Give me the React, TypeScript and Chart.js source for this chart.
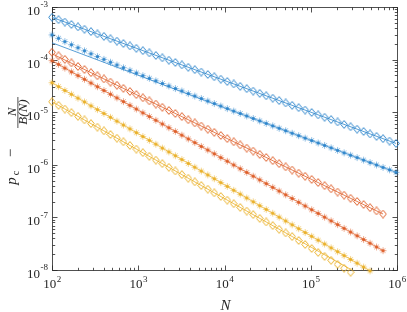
import React, { useEffect, useRef } from "react";
import { Chart, registerables } from "chart.js";

Chart.register(...registerables);

// System sizes N (x axis, log scale)
const N = [100, 119, 141, 168, 200, 238, 283, 336, 400, 476, 566, 673, 800, 951, 1131, 1345, 1600, 1903, 2263, 2691, 3200, 3805, 4525, 5382, 6400, 7611, 9051, 10763, 12800, 15222, 18102, 21527, 25600, 30444, 36204, 43054, 51200, 60887, 72408, 86108, 102400, 121775, 144815, 172215, 204800, 243549, 289631, 344430, 409600, 487098, 579262, 688861, 819200, 974196];

// p_c - N/B(N) for each series
const blueDiamonds = [6.37e-4, 5.74e-4, 5.18e-4, 4.66e-4, 4.20e-4, 3.78e-4, 3.41e-4, 3.07e-4, 2.77e-4, 2.49e-4, 2.25e-4, 2.02e-4, 1.82e-4, 1.64e-4, 1.48e-4, 1.34e-4, 1.20e-4, 1.08e-4, 9.77e-5, 8.81e-5, 7.93e-5, 7.14e-5, 6.44e-5, 5.81e-5, 5.22e-5, 4.71e-5, 4.25e-5, 3.83e-5, 3.44e-5, 3.10e-5, 2.80e-5, 2.52e-5, 2.28e-5, 2.05e-5, 1.85e-5, 1.66e-5, 1.50e-5, 1.35e-5, 1.22e-5, 1.10e-5, 9.89e-6, 8.89e-6, 8.02e-6, 7.23e-6, 6.52e-6, 5.86e-6, 5.28e-6, 4.76e-6, 4.30e-6, 3.86e-6, 3.48e-6, 3.14e-6, 2.83e-6, 2.55e-6];
const blueStars = [2.95e-4, 2.54e-4, 2.20e-4, 1.92e-4, 1.68e-4, 1.47e-4, 1.29e-4, 1.14e-4, 1.01e-4, 8.91e-5, 7.90e-5, 7.01e-5, 6.24e-5, 5.56e-5, 4.95e-5, 4.41e-5, 3.95e-5, 3.52e-5, 3.15e-5, 2.82e-5, 2.53e-5, 2.26e-5, 2.03e-5, 1.82e-5, 1.63e-5, 1.46e-5, 1.31e-5, 1.17e-5, 1.05e-5, 9.45e-6, 8.49e-6, 7.61e-6, 6.84e-6, 6.12e-6, 5.50e-6, 4.94e-6, 4.44e-6, 3.99e-6, 3.58e-6, 3.22e-6, 2.89e-6, 2.60e-6, 2.34e-6, 2.10e-6, 1.88e-6, 1.69e-6, 1.52e-6, 1.37e-6, 1.23e-6, 1.10e-6, 9.92e-7, 8.91e-7, 8.01e-7, 7.20e-7];
const redDiamonds = [1.38e-4, 1.18e-4, 1.01e-4, 8.65e-5, 7.43e-5, 6.48e-5, 5.65e-5, 4.92e-5, 4.29e-5, 3.74e-5, 3.26e-5, 2.84e-5, 2.48e-5, 2.16e-5, 1.88e-5, 1.64e-5, 1.43e-5, 1.24e-5, 1.08e-5, 9.46e-6, 8.24e-6, 7.18e-6, 6.26e-6, 5.46e-6, 4.76e-6, 4.14e-6, 3.61e-6, 3.15e-6, 2.74e-6, 2.39e-6, 2.08e-6, 1.82e-6, 1.58e-6, 1.38e-6, 1.20e-6, 1.05e-6, 9.14e-7, 7.96e-7, 6.94e-7, 6.05e-7, 5.27e-7, 4.60e-7, 4.01e-7, 3.49e-7, 3.04e-7, 2.65e-7, 2.31e-7, 2.01e-7, 1.76e-7, 1.53e-7, 1.33e-7, 1.16e-7];
const redStars = [9.55e-5, 8.12e-5, 6.89e-5, 5.85e-5, 4.97e-5, 4.22e-5, 3.59e-5, 3.05e-5, 2.59e-5, 2.20e-5, 1.87e-5, 1.59e-5, 1.35e-5, 1.15e-5, 9.73e-6, 8.27e-6, 7.02e-6, 5.97e-6, 5.07e-6, 4.31e-6, 3.66e-6, 3.11e-6, 2.64e-6, 2.24e-6, 1.91e-6, 1.62e-6, 1.37e-6, 1.17e-6, 9.92e-7, 8.43e-7, 7.16e-7, 6.08e-7, 5.17e-7, 4.39e-7, 3.73e-7, 3.17e-7, 2.69e-7, 2.29e-7, 1.94e-7, 1.65e-7, 1.40e-7, 1.19e-7, 1.01e-7, 8.59e-8, 7.29e-8, 6.20e-8, 5.27e-8, 4.47e-8, 3.80e-8, 3.23e-8, 2.74e-8, 2.33e-8];
const yellowStars = [3.63e-5, 3.07e-5, 2.59e-5, 2.19e-5, 1.85e-5, 1.57e-5, 1.32e-5, 1.12e-5, 9.46e-6, 8.00e-6, 6.76e-6, 5.71e-6, 4.83e-6, 4.08e-6, 3.45e-6, 2.92e-6, 2.47e-6, 2.08e-6, 1.76e-6, 1.49e-6, 1.26e-6, 1.06e-6, 8.99e-7, 7.60e-7, 6.43e-7, 5.43e-7, 4.59e-7, 3.88e-7, 3.28e-7, 2.77e-7, 2.34e-7, 1.98e-7, 1.67e-7, 1.42e-7, 1.20e-7, 1.01e-7, 8.55e-8, 7.23e-8, 6.11e-8, 5.16e-8, 4.37e-8, 3.69e-8, 3.12e-8, 2.64e-8, 2.23e-8, 1.88e-8, 1.59e-8, 1.35e-8, 1.14e-8, 9.62e-9];
const yellowDiamonds = [1.58e-5, 1.35e-5, 1.15e-5, 9.82e-6, 8.37e-6, 7.14e-6, 6.08e-6, 5.19e-6, 4.42e-6, 3.77e-6, 3.21e-6, 2.74e-6, 2.34e-6, 1.99e-6, 1.70e-6, 1.45e-6, 1.23e-6, 1.05e-6, 8.97e-7, 7.64e-7, 6.52e-7, 5.56e-7, 4.74e-7, 4.04e-7, 3.44e-7, 2.93e-7, 2.50e-7, 2.13e-7, 1.82e-7, 1.55e-7, 1.32e-7, 1.13e-7, 9.60e-8, 8.19e-8, 6.98e-8, 5.95e-8, 5.07e-8, 4.32e-8, 3.64e-8, 3.06e-8, 2.57e-8, 2.16e-8, 1.82e-8, 1.53e-8, 1.28e-8, 1.08e-8, 9.08e-9];

// Power-law fit lines (endpoints)
const fitBlueDiamondsN = [100, 974196];
const fitBlueDiamonds = [6.37e-4, 2.55e-6];
const fitBlueStarsN = [100, 974196];
const fitBlueStars = [2.09e-4, 7.2e-7];
const fitRedDiamondsN = [100, 688861];
const fitRedDiamonds = [1.29e-4, 1.16e-7];
const fitRedStarsN = [100, 688861];
const fitRedStars = [9.55e-5, 2.33e-8];
const fitYellowStarsN = [100, 487098];
const fitYellowStars = [3.63e-5, 9.62e-9];
const fitYellowDiamondsN = [100, 289631];
const fitYellowDiamonds = [1.58e-5, 1.03e-8];

// Axis ticks
const xTickValues = [1e2, 1e3, 1e4, 1e5, 1e6];
const xTickExponents = ["2", "3", "4", "5", "6"];
const yTickValues = [1e-8, 1e-7, 1e-6, 1e-5, 1e-4, 1e-3];
const yTickExponents = ["-8", "-7", "-6", "-5", "-4", "-3"];

const BLUE = "#2F86CC";
const RED = "#DE5F2A";
const YELLOW = "#EAB12A";
const AXIS = "#262626";
const SERIF = '"Liberation Serif", "Times New Roman", Times, serif';

function pts(xs: number[], ys: number[]) {
  return ys.map((y, i) => ({ x: xs[i], y }));
}

function makeDiamond(color: string): HTMLCanvasElement {
  const c = document.createElement("canvas");
  c.width = 8;
  c.height = 9;
  const g = c.getContext("2d")!;
  g.strokeStyle = color;
  g.lineWidth = 1;
  g.beginPath();
  g.moveTo(4, 0.6);
  g.lineTo(7.3, 4.5);
  g.lineTo(4, 8.4);
  g.lineTo(0.7, 4.5);
  g.closePath();
  g.stroke();
  return c;
}

function makeStar(color: string): HTMLCanvasElement {
  const c = document.createElement("canvas");
  c.width = 9;
  c.height = 9;
  const g = c.getContext("2d")!;
  g.strokeStyle = color;
  g.fillStyle = color;
  g.globalAlpha = 0.55;
  g.lineWidth = 1;
  g.beginPath();
  const r = 3.4;
  const cx = 4.5;
  const cy = 4.5;
  for (let i = 0; i < 4; i++) {
    const ang = (i * Math.PI) / 4;
    g.moveTo(cx - r * Math.cos(ang), cy - r * Math.sin(ang));
    g.lineTo(cx + r * Math.cos(ang), cy + r * Math.sin(ang));
  }
  g.stroke();
  g.globalAlpha = 1;
  g.beginPath();
  g.arc(cx, cy, 1.6, 0, Math.PI * 2);
  g.fill();
  return c;
}

const axesPlugin = {
  id: "matlabAxes",
  beforeDatasetsDraw(chart: any) {
    const { ctx, chartArea: a, scales } = chart;
    const xs = scales.x;
    const ys = scales.y;
    ctx.save();
    ctx.strokeStyle = AXIS;
    ctx.lineWidth = 0.8;
    const L = Math.round(a.left) + 0.5;
    const R = Math.round(a.right) + 0.5;
    const T = Math.round(a.top) + 0.5;
    const B = Math.round(a.bottom) + 0.5;
    ctx.strokeRect(L, T, R - L, B - T);
    ctx.beginPath();
    for (let i = 0; i < xTickValues.length; i++) {
      for (let m = 1; m <= 9; m++) {
        const v = xTickValues[i] * m;
        if (v > xTickValues[xTickValues.length - 1] * 1.0001) break;
        const px = Math.round(xs.getPixelForValue(v)) + 0.5;
        const len = m === 1 ? 5 : 2.7;
        ctx.moveTo(px, B);
        ctx.lineTo(px, B - len);
        ctx.moveTo(px, T);
        ctx.lineTo(px, T + len);
      }
    }
    for (let i = 0; i < yTickValues.length; i++) {
      for (let m = 1; m <= 9; m++) {
        const v = yTickValues[i] * m;
        if (v > yTickValues[yTickValues.length - 1] * 1.0001) break;
        const py = Math.round(ys.getPixelForValue(v)) + 0.5;
        const len = m === 1 ? 5 : 2.7;
        ctx.moveTo(L, py);
        ctx.lineTo(L + len, py);
        ctx.moveTo(R, py);
        ctx.lineTo(R - len, py);
      }
    }
    ctx.stroke();
    ctx.restore();
  },
  afterDraw(chart: any) {
    const { ctx, chartArea: a, scales } = chart;
    const xs = scales.x;
    const ys = scales.y;
    ctx.save();
    ctx.fillStyle = AXIS;
    ctx.textBaseline = "middle";
    const baseFont = `13px ${SERIF}`;
    const supFont = `9px ${SERIF}`;
    // x tick labels
    for (let i = 0; i < xTickValues.length; i++) {
      const px = xs.getPixelForValue(xTickValues[i]);
      ctx.font = baseFont;
      const wb = ctx.measureText("10").width;
      ctx.font = supFont;
      const ws = ctx.measureText(xTickExponents[i]).width;
      const left = px - (wb + ws) / 2;
      ctx.font = baseFont;
      ctx.textAlign = "left";
      ctx.fillText("10", left, a.bottom + 15);
      ctx.font = supFont;
      ctx.fillText(xTickExponents[i], left + wb + 0.5, a.bottom + 9.5);
    }
    // y tick labels
    for (let i = 0; i < yTickValues.length; i++) {
      const py = ys.getPixelForValue(yTickValues[i]);
      ctx.font = supFont;
      const ws = ctx.measureText(yTickExponents[i]).width;
      const right = a.left - 4;
      ctx.textAlign = "left";
      ctx.fillText(yTickExponents[i], right - ws, py - 2);
      ctx.font = baseFont;
      ctx.textAlign = "right";
      ctx.fillText("10", right - ws - 0.5, py + 4.5);
    }
    // x axis title
    ctx.font = `italic 15px ${SERIF}`;
    ctx.textAlign = "center";
    ctx.fillText("N", (a.left + a.right) / 2 + 1, a.bottom + 36);
    // y axis title: p_c − N / B(N), rotated
    const rot = (text: string, x: number, y: number, font: string) => {
      ctx.save();
      ctx.translate(x, y);
      ctx.rotate(-Math.PI / 2);
      ctx.font = font;
      ctx.textAlign = "center";
      ctx.textBaseline = "middle";
      ctx.fillText(text, 0, 0);
      ctx.restore();
    };
    rot("p", 12, 181, `italic 15px ${SERIF}`);
    rot("c", 16, 173, `10px ${SERIF}`);
    rot("\u2212", 11, 153, `15px ${SERIF}`);
    rot("N", 12.5, 112, `italic 13px ${SERIF}`);
    ctx.fillRect(17.5, 97, 0.8, 31);
    rot("B(N)", 23.5, 112, `italic 13px ${SERIF}`);
    ctx.restore();
  },
};

export default function App() {
  const ref = useRef<HTMLCanvasElement | null>(null);
  useEffect(() => {
    document.body.style.margin = "0";
    const canvas = ref.current!;
    const dBlue = makeDiamond(BLUE);
    const dRed = makeDiamond(RED);
    const dYellow = makeDiamond(YELLOW);
    const sBlue = makeStar(BLUE);
    const sRed = makeStar(RED);
    const sYellow = makeStar(YELLOW);

    const markerSet = (data: any[], color: string, style: HTMLCanvasElement) => ({
      data,
      showLine: false,
      borderColor: color,
      backgroundColor: color,
      pointStyle: style,
      pointRadius: 4,
      clip: 8,
    });
    const lineSet = (data: any[], color: string) => ({
      data,
      showLine: true,
      borderColor: color,
      borderWidth: 0.8,
      pointRadius: 0,
      fill: false,
      tension: 0,
      clip: 4,
    });

    const chart = new Chart(canvas, {
      type: "line",
      data: {
        datasets: [
          markerSet(pts(N, blueDiamonds), BLUE, dBlue),
          markerSet(pts(N, blueStars), BLUE, sBlue),
          markerSet(pts(N, redDiamonds), RED, dRed),
          markerSet(pts(N, redStars), RED, sRed),
          markerSet(pts(N, yellowStars), YELLOW, sYellow),
          markerSet(pts(N, yellowDiamonds), YELLOW, dYellow),
          lineSet(pts(fitBlueDiamondsN, fitBlueDiamonds), BLUE),
          lineSet(pts(fitBlueStarsN, fitBlueStars), BLUE),
          lineSet(pts(fitRedDiamondsN, fitRedDiamonds), RED),
          lineSet(pts(fitRedStarsN, fitRedStars), RED),
          lineSet(pts(fitYellowStarsN, fitYellowStars), YELLOW),
          lineSet(pts(fitYellowDiamondsN, fitYellowDiamonds), YELLOW),
        ] as any,
      },
      options: {
        animation: false,
        responsive: false,
        devicePixelRatio: 1,
        layout: { padding: { left: 52, right: 10, top: 7, bottom: 42 } },
        plugins: { legend: { display: false }, tooltip: { enabled: false } },
        scales: {
          x: { type: "logarithmic", min: 1e2, max: 1e6, display: false },
          y: { type: "logarithmic", min: 1e-8, max: 1e-3, display: false },
        },
      },
      plugins: [axesPlugin],
    });
    return () => chart.destroy();
  }, []);

  return (
    <div style={{ position: "absolute", left: 0, top: 0, width: 407, height: 312, background: "#fff" }}>
      <canvas ref={ref} width={407} height={312} />
    </div>
  );
}
